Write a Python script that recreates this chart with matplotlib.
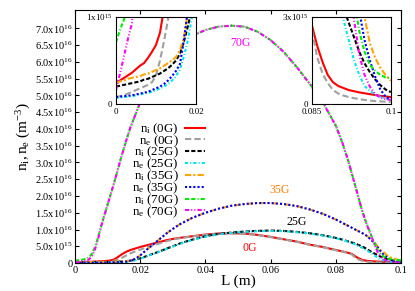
import numpy as np
import matplotlib
matplotlib.use("Agg")
import matplotlib.pyplot as plt
import matplotlib.ticker as mticker

plt.rcParams["font.family"] = ["Liberation Serif", "DejaVu Serif"]
plt.rcParams["mathtext.fontset"] = "custom"
plt.rcParams["mathtext.rm"] = "Liberation Serif"
plt.rcParams["mathtext.it"] = "Liberation Serif:italic"

# ── DATA (densities in units of 1e15 m^-3) ──────────────────
L = [0, 0.001, 0.002, 0.003, 0.004, 0.005, 0.006, 0.007, 0.008, 0.009,
     0.010, 0.011, 0.012, 0.013, 0.014, 0.015, 0.016, 0.017, 0.018, 0.019,
     0.020, 0.022, 0.024, 0.026, 0.028, 0.030, 0.032,
     0.036, 0.040, 0.044, 0.048, 0.052, 0.056, 0.060, 0.064, 0.068, 0.072,
     0.076, 0.080, 0.082, 0.084,
     0.085, 0.086, 0.087, 0.088, 0.089, 0.090, 0.091, 0.092, 0.093, 0.094,
     0.095, 0.096, 0.097, 0.098, 0.099, 0.100]

ni_0G = [0.25, 0.27, 0.30, 0.33, 0.36, 0.40, 0.44, 0.47, 0.53, 0.60,
         0.68, 0.82, 1.1, 1.7, 2.4, 3.0, 3.5, 3.9, 4.2, 4.5,
         4.8, 5.3, 5.8, 6.3, 6.8, 7.2, 7.5,
         8.0, 8.5, 8.8, 8.9, 8.8, 8.4, 7.8, 7.1, 6.4, 5.5,
         4.8, 3.9, 3.5, 3.0,
         2.7, 2.0, 1.45, 1.0, 0.75, 0.62, 0.55, 0.48, 0.44, 0.40,
         0.37, 0.34, 0.31, 0.28, 0.26, 0.24]
ne_0G = [0.08, 0.09, 0.10, 0.12, 0.14, 0.16, 0.18, 0.20, 0.22, 0.25,
         0.33, 0.50, 0.72, 0.97, 1.4, 1.9, 2.4, 2.9, 3.3, 3.7,
         4.0, 4.7, 5.3, 5.9, 6.5, 7.0, 7.4,
         7.95, 8.45, 8.75, 8.85, 8.75, 8.35, 7.75, 7.05, 6.35, 5.45,
         4.75, 3.85, 3.45, 2.9,
         2.55, 1.6, 1.05, 0.72, 0.48, 0.36, 0.29, 0.24, 0.20, 0.17,
         0.14, 0.12, 0.10, 0.09, 0.08, 0.07]
ni_25G = [0.20, 0.21, 0.22, 0.23, 0.24, 0.25, 0.26, 0.28, 0.29, 0.31,
          0.33, 0.35, 0.38, 0.41, 0.45, 0.50, 0.58, 0.72, 0.90, 1.1,
          1.4, 2.1, 2.8, 3.5, 4.3, 5.0, 5.8,
          7.0, 8.0, 8.7, 9.1, 9.4, 9.6, 9.7, 9.6, 9.3, 8.9,
          8.3, 7.5, 7.0, 6.4,
          6.1, 5.8, 5.4, 5.0, 4.5, 3.9, 3.3, 2.8, 2.3, 1.8,
          1.4, 1.1, 0.85, 0.65, 0.50, 0.41]
ne_25G = [0.07, 0.075, 0.08, 0.085, 0.09, 0.10, 0.11, 0.12, 0.13, 0.14,
          0.16, 0.18, 0.20, 0.23, 0.27, 0.32, 0.40, 0.55, 0.74, 1.0,
          1.3, 2.0, 2.7, 3.4, 4.2, 4.9, 5.7,
          6.9, 7.9, 8.6, 9.0, 9.3, 9.5, 9.6, 9.5, 9.2, 8.8,
          8.2, 7.4, 6.9, 6.3,
          6.0, 5.6, 5.1, 4.6, 4.0, 3.5, 2.9, 2.2, 1.5, 1.0,
          0.62, 0.45, 0.33, 0.25, 0.19, 0.14]
ni_35G = [0.24, 0.26, 0.27, 0.29, 0.30, 0.31, 0.32, 0.34, 0.35, 0.37,
          0.39, 0.41, 0.44, 0.47, 0.50, 0.54, 0.62, 0.77, 1.05, 1.5,
          2.3, 4.0, 5.6, 7.2, 8.8, 10.2, 11.5,
          13.5, 15.0, 16.2, 17.1, 17.6, 17.9, 17.9, 17.6, 17.0, 16.0,
          14.7, 13.0, 12.0, 11.0,
          10.5, 10.0, 9.5, 9.0, 8.5, 7.8, 7.0, 6.0, 4.8, 3.7,
          3.0, 2.1, 1.6, 1.25, 1.0, 0.80]
ne_35G = [0.08, 0.085, 0.09, 0.095, 0.10, 0.11, 0.12, 0.13, 0.14, 0.16,
          0.18, 0.20, 0.23, 0.27, 0.32, 0.38, 0.46, 0.74, 1.1, 1.6,
          2.3, 4.0, 5.6, 7.2, 8.8, 10.2, 11.5,
          13.5, 15.0, 16.2, 17.1, 17.6, 17.9, 17.9, 17.6, 17.0, 16.0,
          14.7, 13.0, 12.0, 11.0,
          10.5, 10.0, 9.5, 9.0, 8.5, 7.7, 6.8, 5.7, 4.5, 3.2,
          2.2, 1.5, 0.95, 0.50, 0.25, 0.15]
ni_70G = [0.71, 0.85, 0.97, 1.2, 1.6, 2.5, 4.5, 7.5, 11.0, 14.3,
          17.5, 20.8, 24.0, 27.5, 31.0, 34.3, 37.5, 40.5, 43.0, 45.5,
          48.0, 52.0, 55.5, 58.5, 61.0, 63.2, 65.0,
          67.8, 69.5, 70.5, 70.8, 70.5, 69.0, 66.5, 63.0, 58.5, 53.5,
          48.0, 41.0, 36.0, 30.0,
          26.5, 23.0, 19.5, 16.0, 13.0, 10.5, 8.0, 5.8, 3.6, 2.5,
          1.8, 1.35, 1.15, 1.0, 0.92, 0.88]
ne_70G = [0.16, 0.35, 0.55, 0.75, 0.93, 1.8, 3.8, 7.0, 11.0, 14.3,
          17.5, 20.8, 24.0, 27.5, 31.0, 34.3, 37.5, 40.5, 43.0, 45.5,
          48.0, 52.0, 55.5, 58.5, 61.0, 63.2, 65.0,
          67.8, 69.5, 70.5, 70.8, 70.5, 69.0, 66.5, 63.0, 58.5, 53.5,
          48.0, 41.0, 36.0, 30.0,
          26.5, 23.0, 19.5, 16.0, 13.0, 10.3, 7.8, 5.2, 2.9, 1.7,
          1.0, 0.60, 0.35, 0.22, 0.17, 0.14]

labels = [r"$\mathrm{n_i}$ (0G)", r"$\mathrm{n_e}$ (0G)",
          r"$\mathrm{n_i}$ (25G)", r"$\mathrm{n_e}$ (25G)",
          r"$\mathrm{n_i}$ (35G)", r"$\mathrm{n_e}$ (35G)",
          r"$\mathrm{n_i}$ (70G)", r"$\mathrm{n_e}$ (70G)"]
series = [ni_0G, ne_0G, ni_25G, ne_25G, ni_35G, ne_35G, ni_70G, ne_70G]

# gnuplot-like styles
colours = ["#ff0000", "#a0a0a0", "#000000", "#00e5ee",
           "#ffa500", "#0000ff", "#00ee00", "#ff00ff"]
styles = ["-", (0, (3, 1.5)), (0, (2, 1)), (0, (1.5, 1, 0.5, 1)),
          (0, (3, 1, 1, 1)), (0, (1, 1)), (0, (2, 1, 2, 1, 0.5, 1)),
          (0, (2, 1, 0.5, 1, 0.5, 1))]

x = np.array(L)
ys = [np.array(s) * 1e15 for s in series]


def sci_label(v, _):
    if v == 0:
        return "0"
    e = int(np.floor(np.log10(abs(v)) + 1e-9))
    m = v / 10 ** e
    return r"$\mathrm{%.1fx10^{%d}}$" % (m, e)


# ── FIGURE ─────────────────────────────────────────────────
fig = plt.figure(figsize=(4.15, 2.91), dpi=100)
ax = fig.add_axes([0.181, 0.096, 0.785, 0.870])

for y, c, ls, lab in zip(ys, colours, styles, labels):
    ax.plot(x, y, color=c, linestyle=ls, linewidth=1.5, label=lab)

ax.set_xlim(0, 0.1)
ax.set_ylim(0, 7.55e16)
ax.set_xticks([0, 0.02, 0.04, 0.06, 0.08, 0.1])
ax.set_xticklabels(["0", "0.02", "0.04", "0.06", "0.08", "0.1"])
ax.set_yticks(np.arange(0, 7.01e16, 0.5e16))
ax.yaxis.set_major_formatter(mticker.FuncFormatter(sci_label))
ax.tick_params(direction="in", top=True, right=True, length=3,
               labelsize=7.5, pad=2)
ax.set_xlabel("L (m)", fontsize=11, labelpad=0)
ax.set_ylabel(r"$\mathrm{n_i,n_e}$ $\mathrm{(m^{-3})}$", fontsize=11, labelpad=1)

ax.text(0.0506, 6.55e16, "70G", color="#ff00ff", fontsize=8.5, ha="center", va="center")
ax.text(0.0629, 2.17e16, "35G", color="#ff8000", fontsize=8.5, ha="center", va="center")
ax.text(0.068, 1.22e16, "25G", color="black", fontsize=8.5, ha="center", va="center")
ax.text(0.0537, 0.45e16, "0G", color="#ff0000", fontsize=8.5, ha="center", va="center")

# legend packed tightly like gnuplot's key
leg = ax.legend(loc="upper right", bbox_to_anchor=(0.42, 0.585), frameon=False,
                markerfirst=False, fontsize=9.3, handlelength=1.6,
                handletextpad=0.5, labelspacing=-0.28, borderpad=0)

# ── INSETS ─────────────────────────────────────────────────
ins1 = fig.add_axes([0.2795, 0.6426, 0.1928, 0.299])
ins2 = fig.add_axes([0.7518, 0.6426, 0.190, 0.299])
for ins in (ins1, ins2):
    for y, c, ls in zip(ys, colours, styles):
        ins.plot(x, y, color=c, linestyle=ls, linewidth=1.5)
    ins.tick_params(length=0, labelsize=6.5)
    ins.tick_params(axis="x", pad=3)
    ins.tick_params(axis="y", pad=2.5)

ins1.set_xlim(0, 0.02)
ins1.set_ylim(0, 1e15)
ins1.set_xticks([0, 0.02])
ins1.set_xticklabels(["0", "0.02"])
ins1.set_yticks([0, 1e15])
ins1.set_yticklabels(["0", r"$\mathrm{1x10^{15}}$"])

ins2.set_xlim(0.085, 0.1)
ins2.set_ylim(0, 3e15)
ins2.set_xticks([0.085, 0.1])
ins2.set_xticklabels(["0.085", "0.1"])
ins2.set_yticks([0, 3e15])
ins2.set_yticklabels(["0", r"$\mathrm{3x10^{15}}$"])

plt.savefig("out.png", dpi=100)
